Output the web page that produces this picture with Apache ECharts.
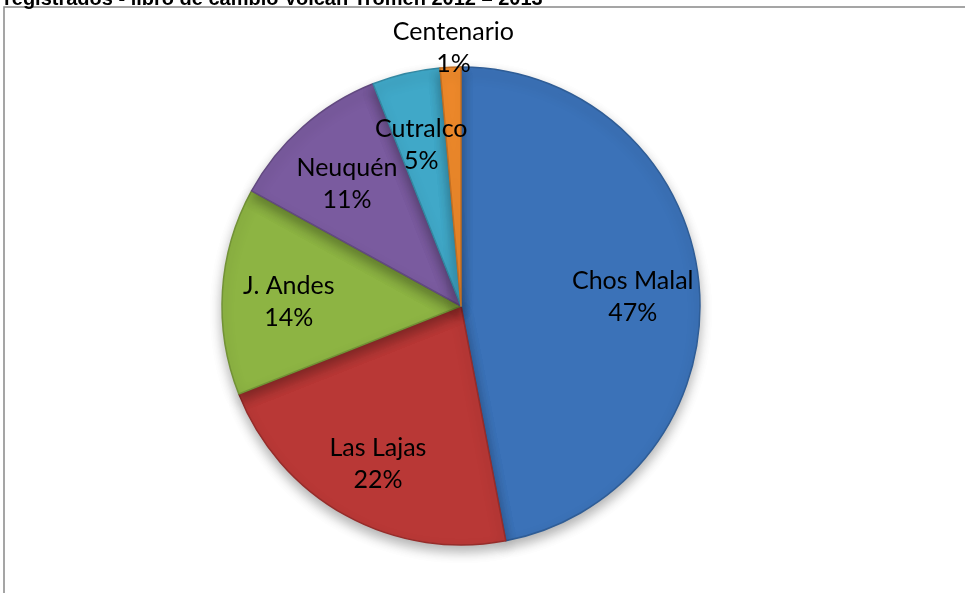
<!DOCTYPE html>
<html lang="es">
<head>
    <meta charset="UTF-8">
    <title>Volcan Tromen</title>
    <script src="https://cdn.jsdelivr.net/npm/echarts@6/dist/echarts.min.js"></script>
    <style>
        html, body { margin: 0; padding: 0; background: #fff; }
        #main { width: 965px; height: 593px; }
    </style>
</head>
<body>
<div id="main"></div>
<script>
    // datos
    var localidades = ['Chos Malal', 'Las Lajas', 'J. Andes', 'Neuquén', 'Cutralco', 'Centenario'];
    var valores = [47, 22, 14, 11, 4.6, 1.4];
    var colores = ['#3b72b8', '#b93836', '#8db443', '#7a5b9f', '#40a8c8', '#f08a2b'];
    var bordes = ['#2f5d96', '#962c2a', '#729236', '#624980', '#3388a2', '#c26f22'];

    var myChart = echarts.init(document.getElementById('main'));

    var datosPie = [];
    var datosEtiq = [];
    for (var i = 0; i < localidades.length; i++) {
        datosPie.push({
            name: localidades[i],
            value: valores[i],
            itemStyle: {color: colores[i], borderColor: bordes[i]}
        });
        datosEtiq.push({name: localidades[i], value: valores[i]});
    }

    var option = {
        backgroundColor: '#fff',
        animation: false,
        title: {
            text: 'registrados - libro de cambio Volcan Tromen 2012 – 2013',
            left: -1,
            top: -16,
            textStyle: {
                fontFamily: 'Liberation Sans',
                fontSize: 20,
                fontWeight: 'bold',
                color: '#000'
            }
        },
        graphic: [{
            type: 'rect',
            shape: {x: 4, y: 7, width: 1000, height: 620},
            style: {fill: 'none', stroke: '#888', lineWidth: 1.5},
            silent: true
        }],
        series: [
            {
                type: 'pie',
                center: [461, 306],
                radius: [0, 239],
                startAngle: 90,
                clockwise: true,
                silent: true,
                label: {show: false},
                labelLine: {show: false},
                itemStyle: {
                    borderWidth: 1.5,
                    shadowBlur: 12,
                    shadowOffsetY: 6,
                    shadowColor: 'rgba(0,0,0,0.3)'
                },
                data: datosPie
            },
            {
                // serie invisible solo para las etiquetas
                type: 'pie',
                center: [461, 306],
                radius: [100, 239],
                startAngle: 90,
                clockwise: true,
                silent: true,
                percentPrecision: 0,
                itemStyle: {color: 'rgba(0,0,0,0)'},
                label: {
                    show: true,
                    position: 'inside',
                    formatter: '{b}\n{d}%',
                    fontFamily: 'Lato',
                    fontSize: 25,
                    lineHeight: 32,
                    color: '#000'
                },
                labelLayout: function (params) {
                    if (params.dataIndex === 5) {
                        return {dy: -86};
                    }
                    return {dy: 7};
                },
                data: datosEtiq
            }
        ]
    };

    myChart.setOption(option);
</script>
</body>
</html>
